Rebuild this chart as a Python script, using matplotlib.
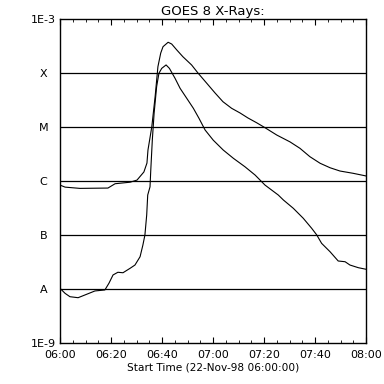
#!/usr/bin/env python3
# -*- coding: utf-8 -*-

import numpy as np
import matplotlib
matplotlib.use("Agg")
import matplotlib.pyplot as plt

# ---------------------------------------------------------------------
# データ（06:00 からの経過分, W/m^2）
# 長波長チャンネル (1-8 A)
t_long = [0.0, 2.0, 7.8, 18.8, 21.6, 27.5, 30.2, 32.9, 34.1, 34.5, 36.0,
          37.3, 38.4, 39.5, 40.4, 42.4, 43.8, 45.8, 48.2, 51.6, 54.1, 57.5,
          60.8, 63.9, 67.3, 70.6, 73.7, 77.1, 80.4, 85.0, 90.2, 94.1, 98.0,
          102.0, 105.9, 109.8, 114.9, 120.0]
f_long = [8.4e-7, 7.7e-7, 7.3e-7, 7.4e-7, 8.9e-7, 9.5e-7, 1.04e-6, 1.47e-6,
          2.15e-6, 3.75e-6, 1.01e-5, 3.64e-5, 1.31e-4, 2.34e-4, 3.07e-4,
          3.71e-4, 3.44e-4, 2.67e-4, 2.0e-4, 1.41e-4, 1.0e-4, 6.5e-5,
          4.27e-5, 2.94e-5, 2.22e-5, 1.82e-5, 1.47e-5, 1.2e-5, 9.7e-6,
          7.1e-6, 5.3e-6, 4.03e-6, 2.82e-6, 2.13e-6, 1.76e-6, 1.53e-6,
          1.39e-6, 1.24e-6]

# 短波長チャンネル (0.5-4 A)
t_short = [0.0, 2.0, 3.9, 7.1, 10.5, 13.7, 17.6, 19.2, 20.8, 22.7, 24.7,
           27.5, 29.4, 31.4, 32.5, 33.3, 34.0, 34.4, 35.3, 35.6, 36.2, 36.9,
           37.9, 38.8, 39.9, 41.6, 42.9, 45.1, 47.1, 49.7, 52.3, 54.5, 56.9,
           60.1, 64.0, 68.0, 72.5, 76.5, 80.4, 85.6, 87.6, 91.5, 95.4, 98.7,
           100.7, 102.6, 105.9, 109.1, 111.8, 113.7, 117.0, 120.0]
f_short = [1.03e-8, 8.3e-9, 7.2e-9, 6.9e-9, 8.0e-9, 9.2e-9, 9.6e-9, 1.28e-8,
           1.82e-8, 2.04e-8, 2.0e-8, 2.42e-8, 2.78e-8, 3.96e-8, 6.5e-8,
           1.0e-7, 2.35e-7, 5.5e-7, 7.8e-7, 1.6e-6, 5.7e-6, 1.79e-5, 5.6e-5,
           9.9e-5, 1.22e-4, 1.41e-4, 1.22e-4, 8.0e-5, 5.2e-5, 3.4e-5,
           2.22e-5, 1.45e-5, 8.8e-6, 5.7e-6, 3.75e-6, 2.63e-6, 1.84e-6,
           1.29e-6, 8.4e-7, 5.5e-7, 4.45e-7, 3.12e-7, 2.04e-7, 1.33e-7,
           1.0e-7, 7.0e-8, 4.9e-8, 3.3e-8, 3.2e-8, 2.78e-8, 2.48e-8, 2.32e-8]

# フレアクラスの境界
class_levels = [1e-8, 1e-7, 1e-6, 1e-5, 1e-4]
y_ticks = [1e-9, 1e-8, 1e-7, 1e-6, 1e-5, 1e-4, 1e-3]
y_labels = ["1E-9", "A", "B", "C", "M", "X", "1E-3"]

x_ticks = [0, 20, 40, 60, 80, 100, 120]
x_labels = ["06:00", "06:20", "06:40", "07:00", "07:20", "07:40", "08:00"]

# ---------------------------------------------------------------------
plt.rcParams["font.family"] = ["DejaVu Sans"]

fig = plt.figure(figsize=(3.84, 3.84), dpi=100)
ax = fig.add_axes([60 / 384, 1 - 343 / 384, 306 / 384, 324 / 384])

for lv in class_levels:
    ax.axhline(lv, color="black", linewidth=0.9)

ax.plot(t_long, f_long, color="black", linewidth=0.8)
ax.plot(t_short, f_short, color="black", linewidth=0.8)

ax.set_yscale("log")
ax.set_ylim(1e-9, 1e-3)
ax.set_xlim(0, 120)

ax.set_yticks(y_ticks)
ax.set_yticklabels(y_labels)
ax.yaxis.set_minor_locator(matplotlib.ticker.NullLocator())
ax.tick_params(axis="y", length=0, pad=12, labelsize=8)
for lab in ax.get_yticklabels():
    lab.set_horizontalalignment("center")

ax.set_xticks(x_ticks)
ax.set_xticklabels(x_labels)
ax.set_xticks(np.arange(0, 121, 5), minor=True)
ax.tick_params(axis="x", which="major", direction="in", length=4.5,
               top=True, labelsize=8, pad=5)
ax.tick_params(axis="x", which="minor", direction="in", length=2.2, top=True)

for s in ax.spines.values():
    s.set_linewidth(1.0)

ax.set_xlabel("Start Time (22-Nov-98 06:00:00)", fontsize=7.6, labelpad=2)
ax.set_title("GOES 8 X-Rays:", fontsize=9.5, pad=3)

fig.savefig("out.png", dpi=100)
